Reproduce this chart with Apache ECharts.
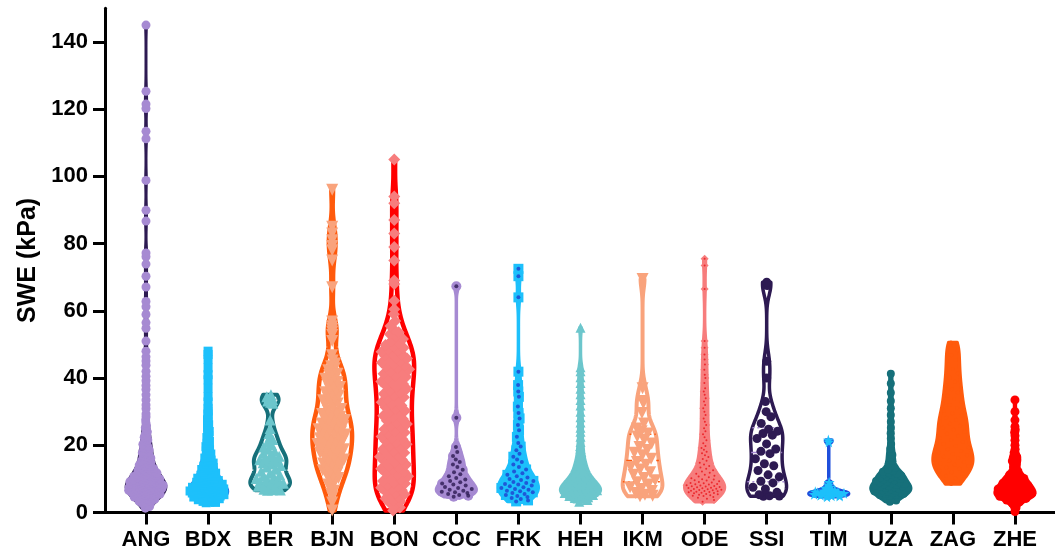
<!DOCTYPE html>
<html><head><meta charset="utf-8">
<script src="https://cdn.jsdelivr.net/npm/echarts@6/dist/echarts.min.js"></script>
<style>html,body{margin:0;padding:0;background:#fff}#c{width:1055px;height:558px}</style>
</head><body><div id="c"></div>
<script>
const categories = ['ANG','BDX','BER','BJN','BON','COC','FRK','HEH','IKM','ODE','SSI','TIM','UZA','ZAG','ZHE'];
const yTicks = [0,20,40,60,80,100,120,140];

const ANG = [1.3,1.8,2.2,2.6,2.9,3.1,3.3,3.5,3.7,3.9,4.0,4.2,4.3,4.5,4.6,4.8,4.9,
5.0,5.1,5.2,5.3,5.4,5.5,5.6,5.7,5.8,5.9,6.0,6.1,6.15,6.2,6.3,6.4,6.45,6.5,6.6,6.7,6.75,6.8,6.9,
7.0,7.05,7.1,7.2,7.25,7.3,7.4,7.45,7.5,7.6,7.65,7.7,7.8,7.9,8.0,8.05,8.1,8.2,8.3,8.35,8.4,8.5,8.6,8.7,8.75,8.8,8.9,
9.0,9.1,9.2,9.3,9.4,9.5,9.6,9.7,9.8,9.9,10.0,10.1,10.3,10.4,10.5,10.7,10.8,10.9,11.0,11.2,11.3,11.5,11.6,11.8,11.9,
12.1,12.2,12.4,12.6,12.7,12.9,13.1,13.3,13.5,13.7,13.9,14.1,14.4,14.6,14.9,15.2,15.4,15.7,15.9,
16.2,16.5,16.9,17.2,17.5,17.8,17.9,18.3,18.6,19.0,19.3,19.6,19.9,20.3,20.8,21.2,21.6,22.0,22.4,22.8,
23.4,24.0,24.6,25.2,25.8,26.7,27.5,28.4,29.3,30.9,32.0,33.5,35.0,36.6,37.8,39.2,
40.5,42.0,43.8,45.1,46.3,48.0,51.0,54.8,56.5,58.9,61.2,62.8,67.1,70.3,73.9,76.1,77.2,
86.7,89.9,98.8,111.2,113.4,120.2,121.5,125.3,145.0];
const BDX = [2.9,3.0,3.1,3.3,3.5,3.6,3.8,3.9,4.0,4.1,4.2,4.3,4.4,4.5,4.6,4.7,4.8,4.9,4.95,
5.0,5.1,5.2,5.3,5.4,5.5,5.6,5.7,5.8,5.85,5.9,5.95,6.0,6.1,6.2,6.3,6.4,6.5,6.6,6.7,6.8,6.85,6.9,6.95,
7.0,7.1,7.2,7.3,7.4,7.5,7.6,7.7,7.8,7.9,8.0,8.1,8.3,8.4,8.5,8.7,8.8,8.9,9.0,9.2,9.3,9.5,9.6,9.8,9.9,
10.0,10.2,10.4,10.6,10.8,10.9,11.1,11.3,11.5,11.7,11.9,12.1,12.3,12.6,12.8,13.0,13.2,13.4,13.6,13.8,
14.1,14.4,14.7,15.0,15.3,15.6,15.9,16.2,16.6,17.0,17.4,17.8,18.3,18.7,19.2,19.6,
20.1,20.6,21.2,21.7,22.3,22.9,23.5,24.1,24.7,25.4,26.1,26.9,27.6,28.4,29.3,30.2,
31.0,32.9,34.5,37.0,39.5,41.0,43.0,45.5,47.0,48.0];
const BER = [6.6,6.7,6.8,6.9,7.2,7.5,7.8,8.1,8.4,8.7,9.0,9.2,9.5,9.8,10.1,10.4,10.8,11.2,11.7,12.3,12.9,13.5,
14.0,14.4,14.8,15.1,15.4,15.7,16.0,16.3,16.7,17.1,17.6,18.2,18.8,19.5,20.2,20.9,21.7,22.5,23.5,25.0,27.5,
32.5,32.8,33.2,33.6,34.0,34.4,35.0];
const BJN = [0.6,3.0,4.6,5.6,6.5,7.5,8.3,9.0,9.7,10.3,10.8,11.3,11.8,12.2,12.6,13.1,13.5,13.9,14.2,14.6,15.0,15.4,15.8,
16.2,16.6,17.0,17.4,17.8,18.1,18.5,18.8,19.2,19.5,19.8,20.1,20.4,20.8,21.2,21.5,21.8,22.1,22.5,22.8,23.2,23.5,23.8,
24.1,24.5,24.8,25.2,25.5,25.8,26.2,26.5,26.8,27.2,27.5,27.8,28.2,28.5,28.9,29.3,29.7,30.3,30.8,31.3,31.8,
32.4,32.9,33.4,33.9,34.3,34.8,35.3,35.8,36.3,36.8,37.3,37.8,38.3,38.8,39.3,39.8,40.3,40.8,41.3,41.8,
42.3,42.9,43.5,44.3,45.2,46.8,51.0,52.8,53.8,54.6,55.4,56.8,67.0,75.0,78.0,79.3,81.0,83.0,85.0,96.0];
const BON = [0.6,1.5,2.3,2.8,3.3,3.8,4.2,4.6,5.0,5.4,5.8,6.2,6.6,7.0,7.4,7.8,8.2,8.6,9.0,9.4,9.8,10.3,10.8,11.3,11.8,
12.2,12.6,13.0,13.4,13.8,14.3,14.8,15.3,15.8,16.2,16.6,17.0,17.4,17.8,18.3,18.8,19.3,19.8,20.3,20.8,21.3,21.8,
22.2,22.6,23.0,23.4,23.8,24.3,24.8,25.3,25.8,26.3,26.8,27.3,27.8,28.3,28.8,29.3,29.8,30.3,30.8,31.3,31.8,
32.3,32.8,33.3,33.8,34.3,34.8,35.3,35.8,36.3,36.8,37.3,37.8,38.2,38.6,39.0,39.4,39.8,40.3,40.8,41.3,41.8,
42.2,42.6,43.0,43.4,43.8,44.2,44.6,45.0,45.4,45.8,46.2,46.6,47.0,47.4,47.8,48.2,48.6,49.0,49.4,49.8,
50.4,51.0,51.6,52.4,53.0,53.6,54.5,55.5,57.0,59.0,60.5,63.0,68.0,69.0,75.0,79.0,83.0,87.0,92.0,94.0,105.0];
const COC = [4.7,5.0,5.2,5.5,5.8,6.0,6.2,6.5,6.8,7.0,7.3,7.6,8.0,8.3,8.6,9.0,9.4,9.8,10.3,10.8,11.4,12.0,12.7,13.5,
14.3,15.0,15.8,16.8,18.0,19.5,28.2,67.3];
const FRK = [3.3,3.6,4.0,4.3,4.6,4.9,5.2,5.5,5.8,6.0,6.3,6.5,6.8,7.0,7.3,7.5,7.8,8.0,8.3,8.5,8.8,9.1,9.4,9.7,10.0,
10.4,10.8,11.2,11.7,12.2,12.8,13.5,14.3,15.0,15.8,16.6,17.5,18.5,19.6,20.7,22.5,24.5,26.0,28.0,29.6,31.5,
34.4,36.0,37.9,41.9,64.0,70.3,72.5];
const HEH = [3.2,3.7,4.1,4.3,4.5,4.7,4.9,5.0,5.1,5.2,5.3,5.5,5.6,5.7,5.8,5.9,6.0,6.1,6.2,6.3,6.4,6.5,6.6,6.7,6.8,6.9,
7.0,7.1,7.3,7.4,7.5,7.7,7.8,7.9,8.1,8.2,8.4,8.5,8.7,8.8,8.9,9.1,9.3,9.5,9.7,9.9,10.1,10.3,10.6,10.8,
11.1,11.4,11.7,12.1,12.4,12.8,13.2,13.6,14.1,14.6,15.0,15.5,16.3,17.1,18.0,18.9,19.8,
21.0,22.5,24.0,25.2,26.8,28.3,30.0,31.8,33.5,35.2,36.8,38.5,40.2,42.0,43.2,55.0];
const IKM = [4.8,5.0,5.3,5.8,6.4,7.0,7.5,8.3,9.0,9.6,10.3,11.2,12.0,12.8,13.5,14.2,15.0,16.0,17.0,17.8,18.6,19.5,20.5,
21.6,22.6,23.5,24.2,25.0,26.5,29.6,32.5,33.2,37.0,69.5];
const ODE = [3.2,3.7,4.1,4.4,4.6,4.9,5.0,5.1,5.3,5.4,5.5,5.7,5.8,5.9,6.0,6.1,6.2,6.3,6.4,6.5,6.6,6.7,6.8,6.9,
7.0,7.1,7.2,7.3,7.4,7.5,7.6,7.7,7.8,7.9,8.0,8.1,8.3,8.4,8.5,8.7,8.8,8.9,9.1,9.3,9.5,9.6,9.8,9.9,
10.2,10.5,10.7,10.9,11.2,11.5,11.8,12.2,12.6,13.0,13.4,13.8,14.3,14.8,15.4,15.9,16.5,17.0,17.6,18.1,18.7,19.2,19.8,
20.6,21.5,22.4,23.3,24.2,25.1,26.0,27.0,28.0,29.0,30.0,31.0,32.0,33.0,34.0,35.0,36.0,37.0,38.5,40.0,41.0,
42.5,44.0,45.5,47.0,49.0,51.0,66.5,73.5,75.5];
const SSI = [4.8,4.9,5.0,5.3,6.0,7.0,7.5,8.8,9.3,10.6,11.2,12.5,13.9,14.5,16.0,17.5,18.2,18.9,20.4,22.0,23.0,23.5,
24.2,24.8,26.5,28.5,30.0,33.0,40.0,45.0,67.5,68.5];
const TIM = [4.7,4.9,5.0,5.1,5.2,5.3,5.4,5.5,5.6,5.7,5.8,5.9,6.0,6.1,6.2,6.3,6.5,6.7,6.9,7.2,7.6,8.2,9.0,21.0,21.6];
const UZA = [3.2,3.6,4.0,4.3,4.6,4.9,5.1,5.3,5.5,5.6,5.8,5.9,6.0,6.2,6.3,6.4,6.6,6.7,6.9,7.0,7.1,7.3,7.4,7.5,7.7,7.8,7.9,
8.1,8.2,8.4,8.5,8.7,8.9,9.0,9.2,9.4,9.6,9.8,10.0,10.2,10.4,10.6,10.8,11.0,11.2,11.4,11.6,11.8,12.1,12.4,12.8,
13.3,13.9,14.6,15.4,16.2,17.1,18.0,19.0,20.4,22.0,23.6,25.2,27.0,29.0,31.0,33.2,35.6,38.4,41.3];
const ZAG = [8.5,9.4,10.2,10.9,11.5,12.0,12.5,13.0,13.4,13.8,14.2,14.6,15.0,15.4,15.8,16.2,16.6,17.0,17.4,17.8,18.3,
18.8,19.3,19.8,20.4,21.0,21.6,22.2,22.8,23.4,24.0,24.6,25.2,25.8,26.4,27.0,27.6,28.2,28.8,29.5,30.3,31.1,32.0,
32.9,33.8,34.7,35.7,36.7,37.8,38.9,40.1,41.4,42.7,44.0,45.4,46.8,48.3,49.7,50.6];
const ZHE = [0.3,1.4,2.2,2.8,3.2,3.5,3.7,3.9,4.1,4.2,4.4,4.5,4.6,4.7,4.8,4.9,5.0,5.1,5.2,5.3,5.4,5.5,5.6,5.7,5.8,5.9,
6.0,6.1,6.2,6.3,6.5,6.6,6.7,6.8,6.9,7.0,7.1,7.2,7.4,7.5,7.6,7.8,7.9,8.0,8.1,8.3,8.4,8.6,8.7,8.9,
9.0,9.2,9.4,9.5,9.7,9.9,10.1,10.3,10.5,10.7,10.9,11.2,11.5,11.8,12.3,12.8,13.5,14.2,14.8,
15.3,15.7,16.1,16.5,16.9,17.8,18.8,20.0,21.5,22.8,23.8,24.6,25.5,27.5,30.0,33.5];

const samples = [ANG,BDX,BER,BJN,BON,COC,FRK,HEH,IKM,ODE,SSI,TIM,UZA,ZAG,ZHE];

const PUR='#2d1a52', LAV='#a68ad2', SKY='#1dc0fb', BLU='#1f4fdc', TEA='#16707a', LTE='#6cc6cc',
      ORA='#ff5a0c', SAL='#f9a37c', RED='#ff0000', PNK='#f77d7d';
const STAR='path://M50,0 L61,35 L98,35 L68,57 L79,91 L50,70 L21,91 L32,57 L2,35 L39,35 Z';
const styles = [
 {fill:LAV, stroke:PUR, pt:LAV, sym:'circle', size:9, lw:3},
 {fill:SKY, stroke:BLU, pt:SKY, sym:'rect', size:9, lw:2.5},
 {fill:'#fff', stroke:TEA, pt:LTE, sym:'triangle', size:11, lw:4},
 {fill:'#fff', stroke:ORA, pt:SAL, sym:'triangle', size:12, rot:180, lw:4.5},
 {fill:'#fff', stroke:RED, pt:PNK, sym:'diamond', size:12, lw:4.5},
 {fill:LAV, stroke:LAV, pt:LAV, sym:'circle', size:10, dot:PUR, dotSize:4, lw:3.5},
 {fill:SKY, stroke:SKY, pt:SKY, sym:'rect', size:10, dot:'#1f3fd0', dotSize:4, lw:3.5},
 {fill:LTE, stroke:LTE, pt:LTE, sym:'triangle', size:10, lw:3.5},
 {fill:'#fff', stroke:SAL, pt:SAL, sym:'triangle', size:12, rot:180, med:'#ff5a0c', lw:4},
 {fill:PNK, stroke:PNK, pt:PNK, sym:'diamond', size:8, dot:'#e8141a', dotSize:2, lw:3.5},
 {fill:'#fff', stroke:PUR, pt:PUR, sym:'circle', size:9, med:LAV, lw:3.5},
 {fill:SKY, stroke:BLU, pt:SKY, sym:STAR, size:11, lw:3.5},
 {fill:TEA, stroke:TEA, pt:TEA, sym:'circle', size:8, lw:3.5},
 {fill:ORA, stroke:ORA, pt:ORA, sym:'circle', size:4, lw:3.5},
 {fill:RED, stroke:RED, pt:RED, sym:'circle', size:9, lw:3.5}
];

const HALF = 0.32, BW = 0.6, STEPS = 300, PXU = 62.07;
function quant(s,p){const i=(s.length-1)*p, lo=Math.floor(i), hi=Math.ceil(i); return s[lo]+(s[hi]-s[lo])*(i-lo);}
const models = samples.map(arr => {
  const s = arr.slice().sort((a,b)=>a-b), n = s.length;
  const mean = s.reduce((a,b)=>a+b,0)/n;
  const sd = Math.sqrt(s.reduce((a,b)=>a+(b-mean)*(b-mean),0)/(n-1));
  const q1 = quant(s,0.25), q3 = quant(s,0.75), med = quant(s,0.5);
  const h = 0.9*Math.min(sd,(q3-q1)/1.34)*Math.pow(n,-0.2)*BW;
  const dens = y => { let t=0; for (const v of s){const z=(y-v)/h; t+=Math.exp(-0.5*z*z);} return t; };
  const lo = s[0], hi = s[n-1];
  const ys = []; for (let k=0;k<=STEPS;k++) ys.push(lo+(hi-lo)*k/STEPS);
  const ds = ys.map(dens); const dmax = Math.max(...ds);
  const w = y => HALF*dens(y)/dmax;
  return {s, med, q1, q3, prof: ys.map((y,k)=>[y, HALF*ds[k]/dmax]), w};
});

const chart = echarts.init(document.getElementById('c'), null, {renderer:'canvas'});
const FONT = 'Liberation Sans';

const series = [{
  type:'custom', clip:false, z:1,
  data: categories.map((c,i)=>[i]),
  renderItem: (params, api) => {
    const i = api.value(0), m = models[i], st = styles[i];
    const right = m.prof.map(p => api.coord([i + p[1], p[0]]));
    const left = m.prof.slice().reverse().map(p => api.coord([i - p[1], p[0]]));
    const children = [{type:'polygon', shape:{points:right.concat(left)},
      style:{fill:st.fill, stroke:st.stroke, lineWidth:st.lw, lineJoin:'round'}}];
    if (st.med) {
      [[m.med,[6,4]],[m.q1,[2,3]],[m.q3,[2,3]]].forEach(([v,dash]) => {
        const ww = m.w(v);
        const a = api.coord([i-ww, v]), b = api.coord([i+ww, v]);
        children.push({type:'line', shape:{x1:a[0],y1:a[1],x2:b[0],y2:b[1]},
          style:{stroke:st.med, lineWidth:1.5, lineDash:dash}});
      });
    }
    return {type:'group', children};
  }
}];

const GR = 0.6180339887;
categories.forEach((c,i) => {
  const m = models[i], st = styles[i];
  const inset = (st.size/2)/PXU;
  const pts = m.s.map((v,k) => {
    const u = ((k*GR + 0.37) % 1)*2 - 1;
    const room = Math.max(0, m.w(v) - (st.fill === '#fff' ? inset*0.8 : inset*0.4));
    return [i + u*room, v];
  });
  series.push({type:'scatter', z:3, symbol:st.sym, symbolSize:st.size, symbolRotate:st.rot||0,
    itemStyle:{color:st.pt, opacity:1}, data:pts, silent:true});
  if (st.dot) series.push({type:'scatter', z:4, symbol:'circle', symbolSize:st.dotSize,
    itemStyle:{color:st.dot}, data:pts, silent:true});
});

const xTicks = categories.map((c,i)=>i);
chart.setOption({
  animation:false,
  backgroundColor:'#fff',
  grid:{left:105, right:0, top:8.3, bottom:45.5, containLabel:false},
  xAxis:{type:'value', min:-0.6605, max:14.645,
    axisLine:{show:true, onZero:false, lineStyle:{color:'#000', width:3}},
    axisTick:{show:true, length:12, lineStyle:{color:'#000', width:3}, customValues:xTicks},
    axisLabel:{customValues:xTicks, formatter:v=>categories[Math.round(v)], color:'#000',
      fontSize:22, fontWeight:'bold', fontFamily:FONT, margin:16},
    splitLine:{show:false}},
  yAxis:{type:'value', min:0, max:150,
    axisLine:{show:true, onZero:false, lineStyle:{color:'#000', width:3}},
    axisTick:{show:true, length:12, lineStyle:{color:'#000', width:3}, customValues:yTicks},
    axisLabel:{customValues:yTicks, color:'#000', fontSize:22, fontWeight:'bold', fontFamily:FONT, margin:17},
    splitLine:{show:false},
    name:'SWE (kPa)', nameLocation:'middle', nameGap:62,
    nameTextStyle:{color:'#000', fontSize:25, fontWeight:'bold', fontFamily:FONT}},
  series
});
</script></body></html>
